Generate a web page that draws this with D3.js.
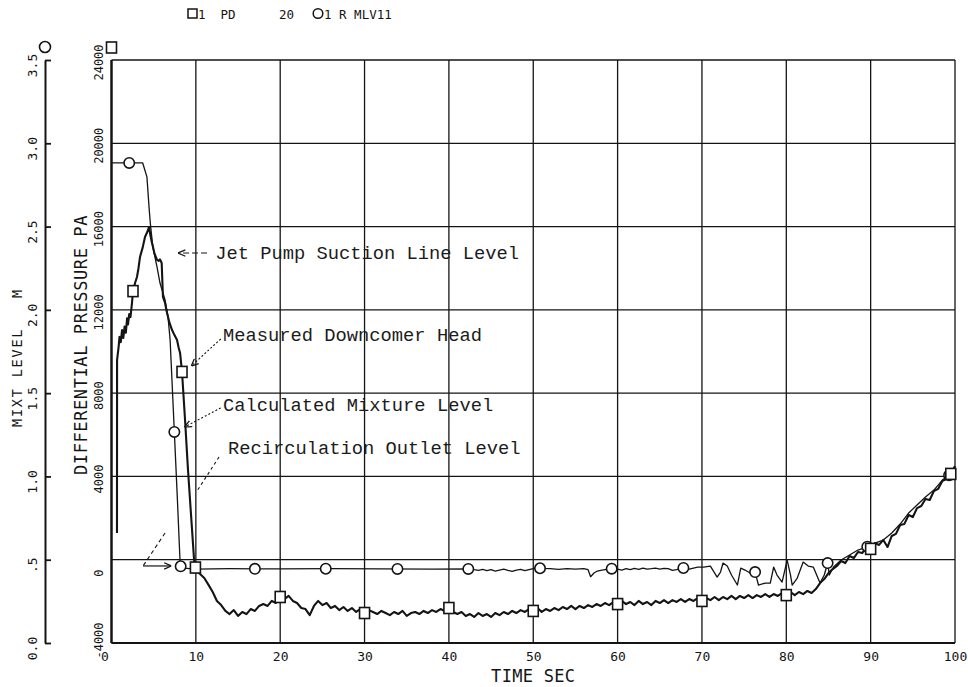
<!DOCTYPE html>
<html>
<head>
<meta charset="utf-8">
<script src="https://cdn.jsdelivr.net/npm/d3@7"></script>
<style>
  html, body { margin: 0; padding: 0; background: #fff; }
  svg { display: block; }
  text { white-space: pre; }
</style>
</head>
<body>
<svg id="chart" width="968" height="687"></svg>
<script>
// ---- axis ticks ----
const timeTicks = [0, 10, 20, 30, 40, 50, 60, 70, 80, 90, 100];
const timeTickLabels = ["0", "10", "20", "30", "40", "50", "60", "70", "80", "90", "100"];
const pressureTicks = [-4000, 0, 4000, 8000, 12000, 16000, 20000, 24000];
const pressureTickLabels = ["-4000", "0", "4000", "8000", "12000", "16000", "20000", "24000"];
const levelTicks = [0, 0.5, 1, 1.5, 2, 2.5, 3, 3.5];
const levelTickLabels = ["0.0", ".5", "1.0", "1.5", "2.0", "2.5", "3.0", "3.5"];

// ---- Measured Downcomer Head: [time s, differential pressure Pa] ----
const downcomerHead = [
  [0.65,1280],[0.66,9590],[0.85,10250],[0.95,10700],[1.1,10450],[1.25,11030],[1.4,10650],[1.55,11200],
  [1.7,10900],[1.85,11600],[1.96,11300],[2.1,11800],[2.25,11650],[2.43,12330],[2.55,12900],[2.8,13300],
  [3.02,13580],[3.2,14000],[3.38,14540],[3.7,15000],[3.97,15500],[4.2,15700],[4.45,15980],[4.6,15600],
  [4.75,15300],[4.92,15020],[5.1,14700],[5.4,14400],[5.6,14350],[5.75,14420],[5.95,14250],[6.1,12620],
  [6.35,12330],[6.5,12000],[6.7,11660],[6.9,11350],[7.18,11030],[7.45,10800],[7.77,10550],[7.95,10200],
  [8.13,9930],[8.36,9020],[8.72,6710],[9.07,4310],[9.55,1430],[9.79,-10],[10,-490],
  [10.5,-690],[11,-880],[11.5,-1210],[12,-1550],[12.5,-1980],[13,-2180],[13.5,-2460],[14,-2610],
  [14.5,-2420],[15,-2700],[15.5,-2510],[16,-2610],[16.5,-2370],[17,-2460],[17.5,-2220],[18,-2130],
  [18.5,-2220],[19,-1980],[19.5,-2080],[20,-1790],[20.5,-1890],[21,-1740],[21.5,-1980],[22,-2080],
  [22.5,-2320],[23,-2370],[23.5,-2660],[24,-2220],[24.5,-1980],[25,-2180],[25.5,-2080],[26,-2320],
  [26.5,-2220],[27,-2420],[27.5,-2270],[28,-2460],[28.5,-2320],[29,-2510],[29.5,-2370],[30,-2560],
  [30.5,-2420],[31,-2510],[31.5,-2610],[32,-2460],[32.5,-2560],[33,-2660],[33.5,-2510],[34,-2610],
  [34.5,-2460],[35,-2700],[35.5,-2560],[36,-2510],[36.5,-2610],[37,-2460],[37.5,-2560],[38,-2420],
  [38.5,-2510],[39,-2370],[39.5,-2460],[40,-2320],[40.5,-2510],[41,-2610],[41.5,-2510],[42,-2700],
  [42.5,-2610],[43,-2750],[43.5,-2560],[44,-2700],[44.5,-2610],[45,-2750],[45.5,-2560],[46,-2660],
  [46.5,-2510],[47,-2610],[47.5,-2460],[48,-2560],[48.5,-2420],[49,-2510],[49.5,-2370],[50,-2460],
  [50.5,-2320],[51,-2510],[51.5,-2370],[52,-2460],[52.5,-2320],[53,-2420],[53.5,-2270],[54,-2370],
  [54.5,-2220],[55,-2370],[55.5,-2220],[56,-2320],[56.5,-2180],[57,-2270],[57.5,-2130],[58,-2220],
  [58.5,-2080],[59,-2180],[59.5,-2030],[60,-2130],[60.5,-1980],[61,-2130],[61.5,-2030],[62,-2180],
  [62.5,-1980],[63,-2130],[63.5,-2030],[64,-2180],[64.5,-1980],[65,-2080],[65.5,-1940],[66,-2080],
  [66.5,-1940],[67,-2030],[67.5,-1890],[68,-2030],[68.5,-1890],[69,-1980],[69.5,-1840],[70,-1980],
  [70.5,-1840],[71,-1940],[71.5,-1790],[72,-1940],[72.5,-1790],[73,-1890],[73.5,-1740],[74,-1890],
  [74.5,-1740],[75,-1840],[75.5,-1700],[76,-1840],[76.5,-1700],[77,-1790],[77.5,-1650],[78,-1790],
  [78.5,-1650],[79,-1740],[79.5,-1600],[80,-1700],[80.5,-1550],[81,-1700],[81.5,-1550],[82,-1650],
  [82.5,-1500],[83,-1600],[83.5,-1410],[84,-1120],[84.5,-930],[85,-640],[85.5,-450],[86,-300],
  [86.5,-60],[87,-160],[87.5,180],[88,80],[88.5,370],[89,320],[89.5,610],[90,520],[90.5,800],
  [91,710],[91.5,950],[92,610],[92.5,1140],[93,1240],[93.5,1670],[94,1720],[94.5,2150],[95,2050],
  [95.5,2480],[96,2580],[96.5,2920],[97,2870],[97.5,3300],[98,3400],[98.5,3780],[99,3880],
  [99.5,4120],[100,4500]
];

// ---- Calculated Mixture Level: [time s, level m] ----
const mixtureLevel = [
  [0,2.882],[3.7,2.882],[4.2,2.798],[4.45,2.617],[4.6,2.521],[4.9,2.377],[5.4,2.257],[5.75,2.161],
  [6.35,2.059],[6.7,1.957],[6.95,1.819],[7.45,1.267],[7.8,0.876],[8.15,0.462],[8.6,0.450],[9.3,0.446],
  [10,0.444],[14,0.446],[20,0.445],[26,0.446],[32,0.445],[38,0.444],[42.5,0.445],[43,0.440],
  [43.5,0.436],[44,0.442],[44.5,0.434],[45,0.440],[45.5,0.432],[46,0.438],[46.5,0.444],[47,0.436],
  [47.5,0.430],[48,0.438],[48.5,0.442],[49,0.434],[49.5,0.440],[50,0.446],[50.5,0.450],[51,0.448],
  [52,0.446],[53,0.442],[54,0.446],[55,0.444],[56,0.446],[56.5,0.440],[56.8,0.398],[57.2,0.420],
  [57.6,0.432],[58,0.436],[58.5,0.440],[59,0.444],[59.5,0.448],[60,0.444],[60.5,0.438],[61,0.446],
  [61.5,0.440],[62,0.448],[62.5,0.442],[63,0.450],[63.5,0.444],[64,0.446],[64.5,0.450],[65,0.444],
  [65.5,0.448],[66,0.446],[66.5,0.436],[67,0.440],[67.5,0.448],[68,0.452],[68.5,0.444],[69,0.450],
  [69.5,0.456],[70.2,0.456],[71.0,0.462],[71.8,0.396],[72.2,0.426],[72.5,0.480],[73.0,0.462],
  [73.5,0.408],[74.2,0.348],[74.6,0.450],[75.1,0.438],[75.7,0.420],[76.3,0.426],[76.7,0.348],
  [77.5,0.360],[78.1,0.360],[78.5,0.456],[78.9,0.408],[79.5,0.366],[80.1,0.498],[80.5,0.408],
  [80.7,0.348],[81.3,0.390],[82.0,0.486],[82.6,0.462],[83.2,0.456],[84.0,0.360],[84.5,0.408],
  [84.9,0.480],[85.1,0.408],[85.6,0.456],[86.5,0.498],[87.5,0.528],[88.5,0.558],[89.5,0.576],
  [90.5,0.600],[91.5,0.618],[92.5,0.660],[93.5,0.714],[94.5,0.780],[95.5,0.828],[96.5,0.876],
  [97.5,0.918],[98.5,0.978],[99.5,1.015],[100,1.050]
];

// times at which the plotter dropped a symbol on each trace
const headSymbolTimes = [2.55, 8.36, 9.95, 20, 30, 40, 50, 60, 70, 80, 90, 99.5];
const levelSymbolTimes = [2.1, 7.45, 8.2, 17, 25.4, 33.9, 42.3, 50.8, 59.3, 67.8, 76.3, 84.9, 89.6, 99.3];

// ---------------------------------------------------------------
const svg = d3.select("#chart");
const ink = "#141414";
const mono = "'DejaVu Sans Mono', monospace";
const typewriter = "'Liberation Mono', 'Courier New', monospace";

const x = d3.scaleLinear().domain([0, 100]).range([111.5, 955]);
const yP = d3.scaleLinear().domain([-4000, 24000]).range([643, 60]);
const yL = d3.scaleLinear().domain([0, 3.5]).range([643, 60]);

const defs = svg.append("defs");
defs.append("marker")
  .attr("id", "arrowhead")
  .attr("viewBox", "0 0 10 10")
  .attr("refX", 10).attr("refY", 5)
  .attr("markerWidth", 8).attr("markerHeight", 8)
  .attr("markerUnits", "userSpaceOnUse")
  .attr("orient", "auto")
  .append("path")
  .attr("d", "M1,1 L10,5 L1,9")
  .attr("fill", "none")
  .attr("stroke", ink)
  .attr("stroke-width", 1.6);

// ---- grid ----
const grid = svg.append("g").attr("stroke", ink).attr("stroke-width", 1.3);
grid.selectAll("line.v").data(timeTicks).join("line")
  .attr("class", "v")
  .attr("x1", d => x(d)).attr("x2", d => x(d))
  .attr("y1", yP(24000)).attr("y2", yP(-4000));
grid.selectAll("line.h").data(pressureTicks).join("line")
  .attr("class", "h")
  .attr("x1", x(0)).attr("x2", x(100))
  .attr("y1", d => yP(d)).attr("y2", d => yP(d));

// heavier left edge and base
svg.append("line").attr("x1", x(0)).attr("x2", x(0)).attr("y1", yP(24000)).attr("y2", yP(-4000))
  .attr("stroke", ink).attr("stroke-width", 2.4);
svg.append("line").attr("x1", x(0)).attr("x2", x(100)).attr("y1", yP(-4000)).attr("y2", yP(-4000))
  .attr("stroke", ink).attr("stroke-width", 1.8);

// ---- x axis ----
const xAxis = svg.append("g")
  .attr("transform", `translate(0,${yP(-4000)})`)
  .call(d3.axisBottom(x).tickValues(timeTicks).tickSize(0).tickPadding(9)
    .tickFormat((d, i) => timeTickLabels[i]));
xAxis.select(".domain").remove();
xAxis.selectAll("text")
  .attr("font-family", mono).attr("font-size", 13).attr("fill", ink)
  .attr("dx", d => d === 0 ? -7 : 0);

svg.append("text")
  .attr("x", x(50)).attr("y", 682)
  .attr("text-anchor", "middle")
  .attr("font-family", mono).attr("font-size", 17).attr("letter-spacing", 0.3)
  .attr("fill", ink)
  .text("TIME SEC");

// ---- pressure axis (left edge of the plot) ----
const pAxis = svg.append("g")
  .attr("transform", `translate(${x(0)},0)`)
  .call(d3.axisLeft(yP).tickValues(pressureTicks).tickSize(0).tickSizeOuter(0)
    .tickFormat((d, i) => pressureTickLabels[i]));
pAxis.select(".domain").remove();
pAxis.selectAll("text")
  .attr("x", 0).attr("y", 0).attr("dy", "0.35em")
  .attr("text-anchor", "middle")
  .attr("transform", d => `translate(-13,${d === 0 ? 13 : d === -4000 ? -3 : 2}) rotate(-90)`)
  .attr("font-family", mono).attr("font-size", 12).attr("fill", ink);

svg.append("text")
  .attr("transform", `translate(81,475) rotate(-90)`)
  .attr("dy", "0.35em")
  .attr("font-family", mono).attr("font-size", 17).attr("letter-spacing", 0.6)
  .attr("fill", ink)
  .text("DIFFERENTIAL PRESSURE PA");

// pressure trace symbol above its axis
svg.append("rect")
  .attr("x", x(0) - 5).attr("y", yP(24000) - 18)
  .attr("width", 10).attr("height", 11)
  .attr("fill", "#fff").attr("stroke", ink).attr("stroke-width", 1.6);

// ---- level axis (far left) ----
const levelX = 45;
const lAxis = svg.append("g")
  .attr("transform", `translate(${levelX},0)`)
  .call(d3.axisRight(yL).tickValues(levelTicks).tickSize(6).tickSizeOuter(0)
    .tickFormat((d, i) => levelTickLabels[i]));
lAxis.select(".domain").attr("stroke", ink).attr("stroke-width", 2);
lAxis.selectAll("line").attr("stroke", ink).attr("stroke-width", 1.8);
lAxis.selectAll("text")
  .attr("x", 0).attr("y", 0).attr("dy", "0.35em")
  .attr("text-anchor", "middle")
  .attr("transform", "translate(-13,5) rotate(-90)")
  .attr("font-family", mono).attr("font-size", 13).attr("fill", ink);

svg.append("text")
  .attr("transform", `translate(17,427) rotate(-90)`)
  .attr("dy", "0.35em")
  .attr("font-family", mono).attr("font-size", 13.5).attr("letter-spacing", 1.8)
  .attr("fill", ink)
  .text("MIXT LEVEL   M");

svg.append("circle")
  .attr("cx", levelX).attr("cy", yL(3.5) - 13).attr("r", 5.5)
  .attr("fill", "#fff").attr("stroke", ink).attr("stroke-width", 1.6);

// ---- header line ----
const header = svg.append("g").attr("font-family", mono).attr("font-size", 12.5).attr("fill", ink);
header.append("rect").attr("x", 188).attr("y", 9).attr("width", 9).attr("height", 9)
  .attr("fill", "none").attr("stroke", ink).attr("stroke-width", 1.5);
header.append("text").attr("x", 198).attr("y", 18.5).text("1  PD");
header.append("text").attr("x", 279).attr("y", 18.5).text("20");
header.append("circle").attr("cx", 318).attr("cy", 13.5).attr("r", 4.8)
  .attr("fill", "none").attr("stroke", ink).attr("stroke-width", 1.5);
header.append("text").attr("x", 324).attr("y", 18.5).text("1 R MLV11");

// ---- traces ----
const headLine = d3.line().x(d => x(d[0])).y(d => yP(d[1]));
const levelLine = d3.line().x(d => x(d[0])).y(d => yL(d[1]));

svg.append("path").datum(mixtureLevel)
  .attr("d", levelLine)
  .attr("fill", "none").attr("stroke", ink).attr("stroke-width", 1.3)
  .attr("stroke-linejoin", "round");

svg.append("path").datum(downcomerHead)
  .attr("d", headLine)
  .attr("fill", "none").attr("stroke", ink).attr("stroke-width", 2.1)
  .attr("stroke-linejoin", "round");

// value of a trace at time t, by linear interpolation
const bisect = d3.bisector(d => d[0]).left;
function valueAt(series, t) {
  const i = Math.max(1, Math.min(series.length - 1, bisect(series, t)));
  const a = series[i - 1], b = series[i];
  const f = (t - a[0]) / (b[0] - a[0]);
  return a[1] + f * (b[1] - a[1]);
}

svg.append("g").selectAll("circle").data(levelSymbolTimes).join("circle")
  .attr("cx", d => x(d)).attr("cy", d => yL(valueAt(mixtureLevel, d)))
  .attr("r", 5.2)
  .attr("fill", "#fff").attr("stroke", ink).attr("stroke-width", 1.6);

svg.append("g").selectAll("rect").data(headSymbolTimes).join("rect")
  .attr("x", d => x(d) - 5).attr("y", d => yP(valueAt(downcomerHead, d)) - 5.5)
  .attr("width", 10).attr("height", 11)
  .attr("fill", "#fff").attr("stroke", ink).attr("stroke-width", 1.6);

// ---- annotations (anchored in time / pressure units) ----
const notes = [
  { text: "Jet Pump Suction Line Level", at: [12.3, 14440], leader: [[11.33, 14730], [7.9, 14730]], head: true, dash: "6,3" },
  { text: "Measured Downcomer Head", at: [13.23, 10505], leader: [[12.95, 10600], [9.45, 9300]], head: true, dash: "2,2" },
  { text: "Calculated Mixture Level", at: [13.23, 7143], leader: [[12.95, 7290], [8.65, 6370]], head: true, dash: "2,2" },
  { text: "Recirculation Outlet Level", at: [13.82, 5078], leader: [[12.75, 4934], [10.14, 3300]], head: false, dash: "3,3" }
];
const noteG = svg.append("g");
notes.forEach(n => {
  noteG.append("text")
    .attr("x", x(n.at[0])).attr("y", yP(n.at[1]))
    .attr("font-family", typewriter).attr("font-size", 18.75)
    .attr("fill", "#1c1c1c")
    .text(n.text);
  noteG.append("line")
    .attr("x1", x(n.leader[0][0])).attr("y1", yP(n.leader[0][1]))
    .attr("x2", x(n.leader[1][0])).attr("y2", yP(n.leader[1][1]))
    .attr("stroke", ink).attr("stroke-width", 1.1)
    .attr("stroke-dasharray", n.dash)
    .attr("marker-end", n.head ? "url(#arrowhead)" : null);
});

// bent pointer toward the recirculation outlet level
noteG.append("line")
  .attr("x1", x(6.35)).attr("y1", yP(1284))
  .attr("x2", x(3.74)).attr("y2", yP(-300))
  .attr("stroke", ink).attr("stroke-width", 1.1).attr("stroke-dasharray", "4,3");
noteG.append("line")
  .attr("x1", x(3.74)).attr("y1", yP(-300))
  .attr("x2", x(7.1)).attr("y2", yP(-300))
  .attr("stroke", ink).attr("stroke-width", 1.2)
  .attr("marker-end", "url(#arrowhead)");
</script>
</body>
</html>
